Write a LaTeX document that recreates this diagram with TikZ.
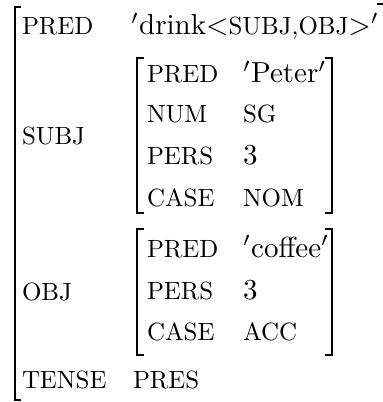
\documentclass[tikz,border=0pt]{standalone}
\usepackage{graphicx}
\newcommand\attr[1]{\scalebox{0.86}{#1}}
\begin{document}
\begin{tikzpicture}[x=0.345pt,y=-0.345pt,
  lab/.style={anchor=base west,inner sep=0pt,outer sep=0pt},
  brk/.style={line width=0.45pt}]
\useasboundingbox (0,0) rectangle (382,402);
% outer bracket
\draw[brk] (21,7) -- (15,7) -- (15,400) -- (21,400);
\draw[brk] (377,4) -- (385,4) -- (385,400);
% outer attributes
\node[lab] (p1) at (22,35) {\attr{PRED}};
\node[lab] (v1) at (131,35) {$'$drink$<$\attr{SUBJ,OBJ}$>'$};
\node[lab] (p2) at (22,145) {\attr{SUBJ}};
\node[lab] (p3) at (22,300) {\attr{OBJ}};
\node[lab] (p4) at (22,388) {\attr{TENSE}};
\node[lab] (v4) at (133,388) {\attr{PRES}};
% subj f-structure
\draw[brk] (144,58) -- (137,58) -- (137,213) -- (144,213);
\draw[brk] (325,58) -- (332,58) -- (332,213) -- (325,213);
\node[lab] (s1) at (147,83) {\attr{PRED}};
\node[lab] (sv1) at (243,83) {$'$Peter$'$};
\node[lab] (s2) at (147,123) {\attr{NUM}};
\node[lab] (sv2) at (243,123) {\attr{SG}};
\node[lab] (s3) at (147,164) {\attr{PERS}};
\node[lab] (sv3) at (243,164) {3};
\node[lab] (s4) at (147,206) {\attr{CASE}};
\node[lab] (sv4) at (243,206) {\attr{NOM}};
% obj f-structure
\draw[brk] (144,229) -- (137,229) -- (137,355) -- (144,355);
\draw[brk] (325,229) -- (332,229) -- (332,355) -- (325,355);
\node[lab] (o1) at (147,257) {\attr{PRED}};
\node[lab] (ov1) at (243,257) {$'$coffee$'$};
\node[lab] (o2) at (147,299) {\attr{PERS}};
\node[lab] (ov2) at (243,299) {3};
\node[lab] (o3) at (147,340) {\attr{CASE}};
\node[lab] (ov3) at (243,340) {\attr{ACC}};
\end{tikzpicture}
\end{document}
